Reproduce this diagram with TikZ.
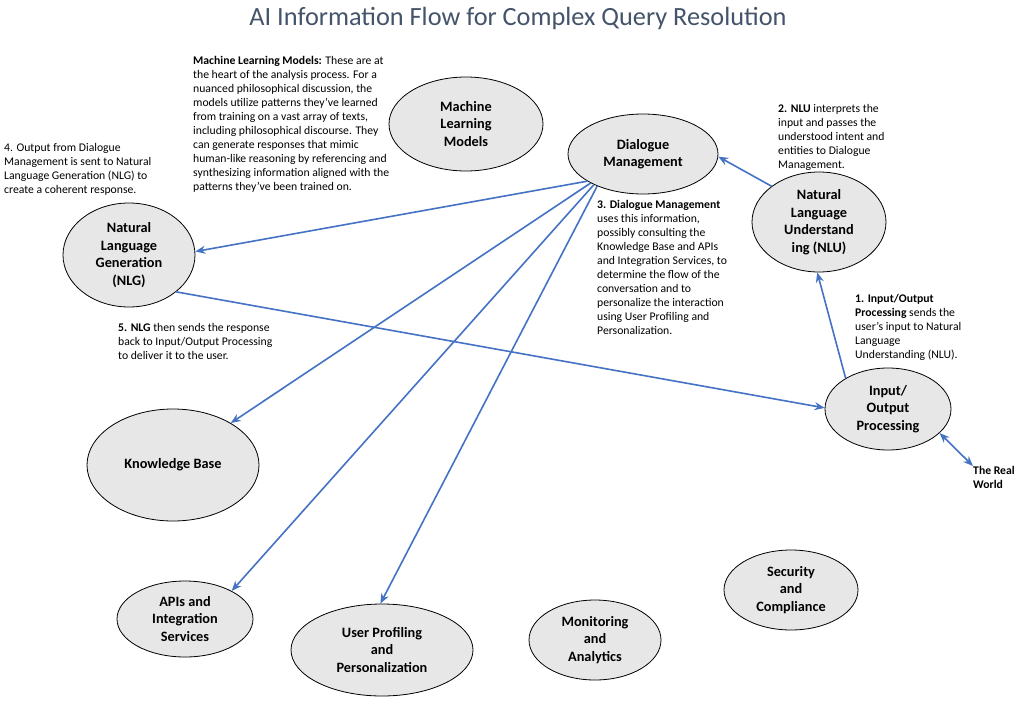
\documentclass[tikz,border=0pt]{standalone}
\usepackage{fontspec}
\setmainfont{Carlito}
\usetikzlibrary{shapes.geometric,arrows.meta}
\definecolor{arrowblue}{RGB}{68,114,196}
\definecolor{ellfill}{RGB}{231,231,231}
\definecolor{titlecol}{RGB}{68,84,106}
\begin{document}
\begin{tikzpicture}[x=1pt,y=-1pt,
 ell/.style={ellipse,draw=black,line width=0.8pt,fill=ellfill,inner sep=0pt,align=center,font=\fontsize{14.3}{17.5}\selectfont\bfseries},
 note/.style={anchor=north west,inner sep=0pt,align=left,font=\fontsize{11.7}{14}\selectfont},
 flow/.style={draw=arrowblue,line width=1.6pt,-{Stealth[length=10pt,width=8pt]}},
 flow2/.style={draw=arrowblue,line width=1.6pt,{Stealth[length=10pt,width=8pt]}-{Stealth[length=10pt,width=8pt]}},
]
\useasboundingbox[fill=white] (0,0) rectangle (1024,709);

\node[font=\fontsize{26.3}{30}\selectfont,text=titlecol] (title) at (518,18) {AI Information Flow for Complex Query Resolution};

\node[ell,minimum width=154pt,minimum height=94pt] (ml) at (466,124) {Machine\\Learning\\Models};
\node[ell,minimum width=150pt,minimum height=80pt] (dm) at (643,154) {Dialogue\\Management};
\node[ell,minimum width=134pt,minimum height=100pt] (nlu) at (819,222) {Natural\\Language\\Understand\\ing (NLU)};
\node[ell,minimum width=132pt,minimum height=104pt] (nlg) at (129,255) {Natural\\Language\\Generation\\(NLG)};
\node[ell,minimum width=126pt,minimum height=82pt] (io) at (888,409) {Input/\\Output\\Processing};
\node[ell,minimum width=172pt,minimum height=112pt] (kb) at (173,465) {Knowledge Base};
\node[ell,minimum width=136pt,minimum height=76pt] (api) at (185,619) {APIs and\\Integration\\Services};
\node[ell,minimum width=182pt,minimum height=92pt] (up) at (382,650) {User Profiling\\and\\Personalization};
\node[ell,minimum width=132pt,minimum height=80pt] (mon) at (595,640) {Monitoring\\and\\Analytics};
\node[ell,minimum width=134pt,minimum height=80pt] (sec) at (791,590) {Security\\and\\Compliance};

\node[note] (mltext) at (193,56) {\textbf{Machine Learning Models:} These are at\\the heart of the analysis process. For a\\nuanced philosophical discussion, the\\models utilize patterns they've learned\\from training on a vast array of texts,\\including philosophical discourse. They\\can generate responses that mimic\\human-like reasoning by referencing and\\synthesizing information aligned with the\\patterns they've been trained on.};
\node[note] (n4) at (4,143) {4. Output from Dialogue\\Management is sent to Natural\\Language Generation (NLG) to\\create a coherent response.};
\node[note] (n3) at (597,200) {\textbf{3. Dialogue Management}\\uses this information,\\possibly consulting the\\Knowledge Base and APIs\\and Integration Services, to\\determine the flow of the\\conversation and to\\personalize the interaction\\using User Profiling and\\Personalization.};
\node[note] (n2) at (778,104) {\textbf{2. NLU} interprets the\\input and passes the\\understood intent and\\entities to Dialogue\\Management.};
\node[note] (n1) at (855,294) {\textbf{1. Input/Output}\\\textbf{Processing} sends the\\user's input to Natural\\Language\\Understanding (NLU).};
\node[note] (n5) at (118,323) {\textbf{5. NLG} then sends the response\\back to Input/Output Processing\\to deliver it to the user.};
\node[note,font=\fontsize{11.7}{14}\selectfont\bfseries] (rw) at (973,466) {The Real\\World};

\draw[flow] (dm.206) -- (nlg.3);
\draw[flow] (dm.209) -- (kb.36);
\draw[flow] (dm.212) -- (api.31);
\draw[flow] (dm.215) -- (up.92);
\draw[flow] (nlu.143) -- (dm.358);
\draw[flow] (io.144) -- (nlu.268);
\draw[flow] (nlg.-38) -- (io.179);
\draw[flow2] (io.-25) -- (rw.north west);
\end{tikzpicture}
\end{document}
